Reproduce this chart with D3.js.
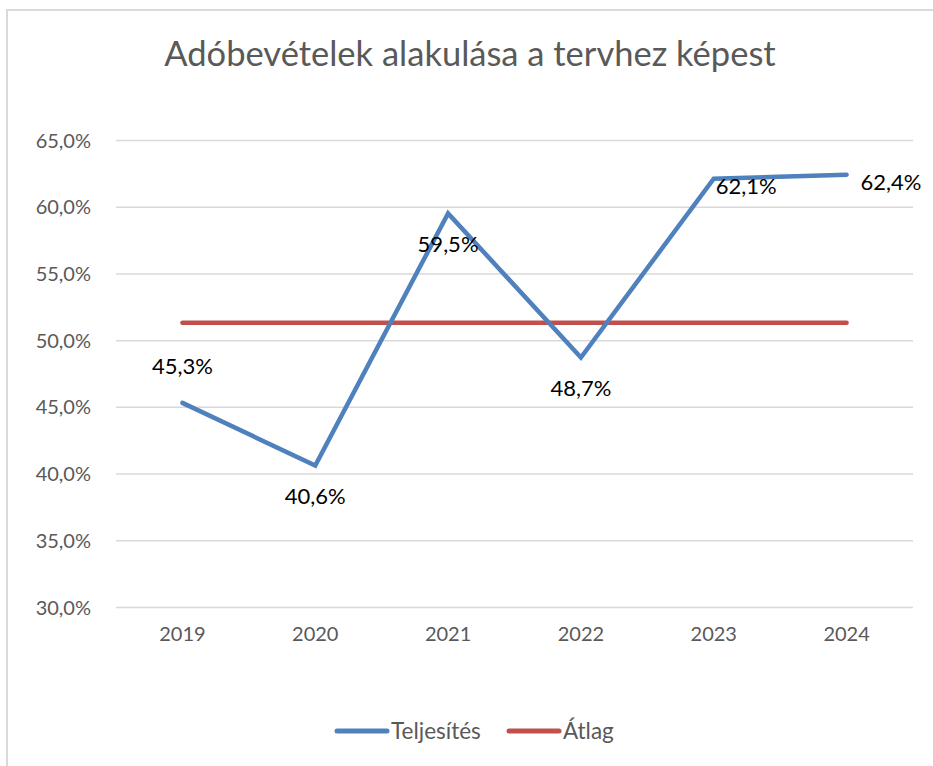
<!DOCTYPE html>
<html>
<head>
<meta charset="utf-8">
<script src="https://cdn.jsdelivr.net/npm/d3@7"></script>
<style>
  body { margin: 0; background: #fff; }
  svg { display: block; font-family: Lato, "Open Sans", sans-serif; }
</style>
</head>
<body>
<div id="chart"></div>
<script>
// adatok
const years = ["2019", "2020", "2021", "2022", "2023", "2024"];
const teljesites = [45.3, 40.6, 59.5, 48.7, 62.1, 62.4];
const atlag = [51.3, 51.3, 51.3, 51.3, 51.3, 51.3];
const yTicks = [30, 35, 40, 45, 50, 55, 60, 65];

// címke helyzete pontonként (csak stílus)
const labelPos = ["above", "below", "below", "below", "right", "right"];

const W = 933, H = 766;
const margin = {left: 116, right: 20, top: 140, bottom: 159};
const FONT = "Lato, 'Open Sans', sans-serif";

const svg = d3.select("#chart").append("svg")
  .attr("width", W)
  .attr("height", H);

// keret
svg.append("rect")
  .attr("x", 7).attr("y", 10)
  .attr("width", W + 10).attr("height", H + 10)
  .attr("fill", "white")
  .attr("stroke", "#d9d9d9")
  .attr("stroke-width", 2);

const x = d3.scaleBand()
  .domain(years)
  .range([margin.left, W - margin.right]);

const y = d3.scaleLinear()
  .domain([30, 65])
  .range([H - margin.bottom, margin.top]);

const fmt = v => d3.format(".1f")(v).replace(".", ",") + "%";

// cím
svg.append("text")
  .attr("x", 470).attr("y", 66)
  .attr("text-anchor", "middle")
  .attr("fill", "#595959")
  .style("font-size", "34.5px")
  .text("Adóbevételek alakulása a tervhez képest");

// rácsvonalak + y tengely
const yAxis = d3.axisLeft(y)
  .tickValues(yTicks)
  .tickSize(-(W - margin.left - margin.right))
  .tickPadding(25)
  .tickFormat(fmt);

const gy = svg.append("g")
  .attr("transform", "translate(" + margin.left + ",0)")
  .call(yAxis)
  .attr("font-family", FONT);
gy.select(".domain").remove();
gy.selectAll("line").attr("stroke", "#d9d9d9").attr("stroke-width", 1.5);
gy.selectAll("text")
  .attr("fill", "#595959")
  .style("font-size", "20px")
  .attr("dy", "0.35em");

// x tengely
const xAxis = d3.axisBottom(x).tickSize(0).tickPadding(20);
const gx = svg.append("g")
  .attr("transform", "translate(0," + (H - margin.bottom) + ")")
  .call(xAxis)
  .attr("font-family", FONT);
gx.select(".domain").remove();
gx.selectAll("text")
  .attr("fill", "#595959")
  .style("font-size", "20px");

const cx = d => x(d) + x.bandwidth() / 2;

const line = d3.line()
  .x((d, i) => cx(years[i]))
  .y(d => y(d));

// átlag
svg.append("path")
  .datum(atlag)
  .attr("d", line)
  .attr("fill", "none")
  .attr("stroke", "#c0504d")
  .attr("stroke-width", 4.5)
  .attr("stroke-linecap", "round");

// teljesítés
svg.append("path")
  .datum(teljesites)
  .attr("d", line)
  .attr("fill", "none")
  .attr("stroke", "#4f81bd")
  .attr("stroke-width", 4.5)
  .attr("stroke-linecap", "round")
  .attr("stroke-linejoin", "miter");

// adatcímkék
svg.selectAll(".lbl")
  .data(teljesites)
  .enter()
  .append("text")
  .attr("class", "lbl")
  .attr("x", (d, i) => labelPos[i] == "right" ? cx(years[i]) + 2 : cx(years[i]))
  .attr("y", (d, i) => {
    if (labelPos[i] == "above") return y(d) - 37;
    if (labelPos[i] == "below") return y(d) + 31;
    return y(d) + 8;
  })
  .attr("dx", (d, i) => labelPos[i] == "right" && i == 5 ? 12 : 0)
  .attr("text-anchor", (d, i) => labelPos[i] == "right" ? "start" : "middle")
  .attr("dy", "0.35em")
  .attr("fill", "#000")
  .style("font-size", "22px")
  .text(fmt);

// jelmagyarázat
const legend = [
  {name: "Teljesítés", color: "#4f81bd", x: 337},
  {name: "Átlag", color: "#c0504d", x: 509}
];
const lg = svg.selectAll(".leg")
  .data(legend)
  .enter()
  .append("g")
  .attr("transform", d => "translate(" + d.x + ",731)");
lg.append("line")
  .attr("x1", 0).attr("x2", 50)
  .attr("stroke", d => d.color)
  .attr("stroke-width", 5)
  .attr("stroke-linecap", "round");
lg.append("text")
  .attr("x", 54)
  .attr("dy", "0.35em")
  .attr("fill", "#595959")
  .style("font-size", "22.5px")
  .text(d => d.name);
</script>
</body>
</html>
